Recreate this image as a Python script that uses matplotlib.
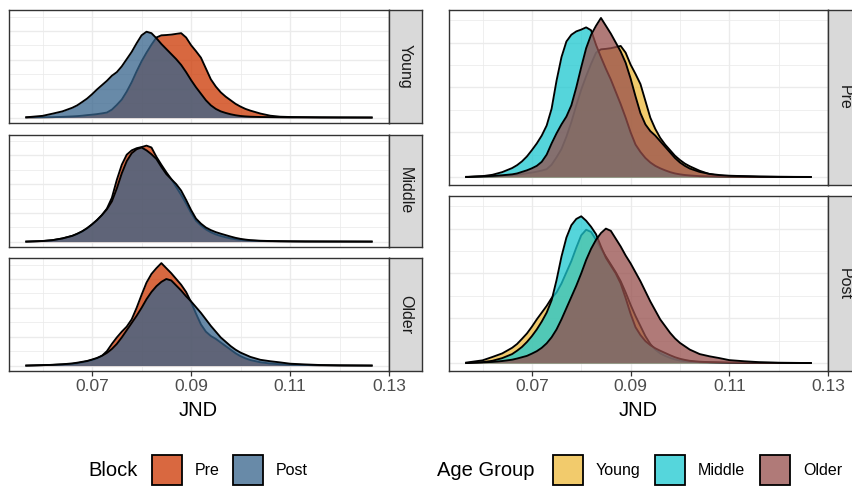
import matplotlib
matplotlib.use("Agg")
import matplotlib.pyplot as plt
from matplotlib.patches import Rectangle
from matplotlib.ticker import MultipleLocator, FixedLocator

plt.rcParams['font.family'] = ['Liberation Sans', 'DejaVu Sans']

# Evaluation grid of the JND density estimates
jnd = [0.0567, 0.060, 0.062, 0.064,
       0.066, 0.067, 0.068, 0.069, 0.070, 0.071, 0.072, 0.073, 0.074, 0.075,
       0.076, 0.077, 0.078, 0.079, 0.080, 0.081, 0.082, 0.083, 0.084, 0.085,
       0.086, 0.087, 0.088, 0.089, 0.090, 0.091, 0.092, 0.093, 0.094, 0.095,
       0.096, 0.097, 0.098, 0.099, 0.100, 0.101, 0.102,
       0.104, 0.106, 0.108, 0.110, 0.113, 0.116, 0.120, 0.1265]

young_pre = [0.1, 0.2, 0.3, 0.5,
             0.8, 1.0, 1.3, 1.7, 2.0, 2.4, 2.9, 3.5, 5.5, 8.8,
             12.5, 18.0, 24.5, 32.0, 39.0, 45.0, 50.5, 55.5, 57.0, 57.2,
             57.5, 58.0, 58.5, 55.5, 50.2, 46.0, 41.5, 34.0, 26.5, 21.5,
             17.5, 14.5, 12.0, 9.5, 7.6, 6.0, 4.8,
             2.8, 1.3, 0.6, 0.4, 0.3, 0.2, 0.1, 0.05]
young_post = [0.2, 1.2, 2.7, 4.3,
              6.8, 8.5, 10.8, 13.2, 16.2, 19.5, 22.5, 25.5, 29.0, 31.5,
              35.5, 40.5, 45.5, 51.5, 57.0, 59.5, 58.5, 55.0, 51.0, 47.5,
              44.0, 40.5, 36.5, 31.5, 26.0, 21.0, 16.5, 12.0, 8.5, 6.0,
              4.3, 3.2, 2.3, 1.6, 1.1, 0.8, 0.6,
              0.4, 0.3, 0.2, 0.1, 0.1, 0.05, 0.05, 0.0]
middle_pre = [0.0, 0.4, 1.0, 2.2,
              4.0, 5.3, 7.0, 9.2, 12.0, 15.0, 18.5, 23.0, 30.5, 43.0,
              53.5, 60.5, 63.5, 65.0, 65.8, 66.8, 65.5, 59.0, 53.5, 48.3,
              43.5, 38.0, 32.5, 26.5, 20.0, 14.5, 11.2, 8.5, 6.5, 5.0,
              3.9, 3.0, 2.2, 1.6, 1.2, 0.9, 0.7,
              0.4, 0.3, 0.2, 0.15, 0.1, 0.05, 0.05, 0.0]
middle_post = [0.0, 0.4, 1.0, 2.2,
               4.0, 5.5, 7.2, 9.4, 12.0, 15.0, 18.5, 22.5, 28.0, 37.0,
               47.5, 56.0, 61.5, 64.3, 65.5, 63.5, 60.8, 57.5, 52.0, 47.0,
               43.5, 40.0, 35.5, 29.0, 22.0, 16.0, 12.5, 9.8, 8.0, 6.6,
               5.5, 4.5, 3.5, 2.6, 1.9, 1.4, 1.0,
               0.6, 0.4, 0.3, 0.2, 0.1, 0.1, 0.05, 0.0]
older_pre = [0.0, 0.3, 0.5, 0.8,
             1.2, 1.6, 2.3, 3.0, 3.9, 5.0, 6.8, 10.0, 15.0, 19.5,
             23.5, 27.0, 32.0, 40.0, 49.0, 57.5, 63.5, 67.5, 71.0, 67.5,
             64.0, 60.0, 56.0, 51.0, 44.0, 36.0, 28.5, 23.5, 20.5, 18.5,
             16.0, 13.5, 11.0, 8.5, 6.5, 5.0, 3.8,
             2.3, 1.4, 0.9, 0.6, 0.4, 0.2, 0.1, 0.0]
older_post = [0.0, 0.3, 0.5, 0.9,
              1.5, 2.0, 2.6, 3.2, 4.2, 5.3, 6.8, 8.8, 11.5, 15.0,
              19.5, 24.5, 29.5, 34.5, 40.0, 46.0, 51.0, 55.0, 58.0, 60.0,
              59.0, 55.5, 52.0, 48.0, 44.5, 40.5, 36.5, 32.0, 27.5, 23.5,
              19.5, 16.5, 13.5, 11.0, 9.0, 7.5, 6.0,
              4.0, 3.0, 2.2, 1.3, 0.8, 0.4, 0.15, 0.0]

age_groups = ["Young", "Middle", "Older"]
blocks = ["Pre", "Post"]
density = {
    ("Young", "Pre"): young_pre, ("Young", "Post"): young_post,
    ("Middle", "Pre"): middle_pre, ("Middle", "Post"): middle_post,
    ("Older", "Pre"): older_pre, ("Older", "Post"): older_post,
}

block_colors = {"Pre": "#CC3600", "Post": "#36638B"}
age_colors = {"Young": "#EDB93B", "Middle": "#1CC8D0", "Older": "#964E4B"}
ALPHA = 0.75

x_ticks = [0.07, 0.09, 0.11, 0.13]
x_tick_labels = ["0.07", "0.09", "0.11", "0.13"]

W, H = 853, 486
fig = plt.figure(figsize=(W / 100, H / 100), dpi=100)


def box(x0, y0, x1, y1):
    return [x0 / W, 1 - y1 / H, (x1 - x0) / W, (y1 - y0) / H]


xmin, xmax = min(jnd), max(jnd)
xw = xmax - xmin
ymax = max(max(v) for v in density.values())
# 5% padding on both axes; the upper x limit lands on the last break
XLIM = (xmin - 0.05 * xw, max(xmax + 0.05 * xw, 0.13) + 1e-6)
YLIM = (-0.05 * ymax, 1.05 * ymax)


def style_panel(ax, bottom):
    ax.set_xlim(*XLIM)
    ax.set_ylim(*YLIM)
    ax.xaxis.set_major_locator(FixedLocator(x_ticks))
    ax.xaxis.set_minor_locator(MultipleLocator(0.01))
    ax.yaxis.set_major_locator(MultipleLocator(20))
    ax.yaxis.set_minor_locator(MultipleLocator(10))
    ax.grid(which="major", color="#EBEBEB", lw=1.0, zorder=0)
    ax.grid(which="minor", color="#EBEBEB", lw=0.55, zorder=0)
    ax.set_axisbelow(True)
    for s in ax.spines.values():
        s.set_color("#333333")
        s.set_linewidth(1.0)
    ax.tick_params(axis="y", which="both", left=False, labelleft=False)
    ax.tick_params(axis="x", which="minor", bottom=False)
    if bottom:
        ax.set_xticklabels(x_tick_labels)
        ax.tick_params(axis="x", which="major", length=3.5, width=0.9,
                       color="#333333", labelsize=12.5, labelcolor="#4D4D4D",
                       pad=2.5)
    else:
        ax.tick_params(axis="x", which="major", bottom=False, labelbottom=False)


def strip(x0, y0, x1, y1, label):
    sax = fig.add_axes(box(x0, y0, x1, y1))
    sax.set_facecolor("#D9D9D9")
    sax.set_xticks([])
    sax.set_yticks([])
    for s in sax.spines.values():
        s.set_color("#333333")
        s.set_linewidth(1.0)
    sax.text(0.5, 0.5, label, rotation=-90, ha="center", va="center",
             fontsize=11.5, color="#1A1A1A", transform=sax.transAxes)


def draw_density(ax, y, color):
    ax.fill_between(jnd, 0, y, color=color, alpha=ALPHA, lw=0, zorder=2)
    ax.plot(jnd, y, color="black", lw=1.35, zorder=2, solid_joinstyle="round")


# Left: one panel per age group, Pre vs Post
left_rows = [(10, 122.7), (134.5, 246.7), (258, 370.7)]
for (y0, y1), group in zip(left_rows, age_groups):
    ax = fig.add_axes(box(9, y0, 389, y1))
    for b in blocks:
        draw_density(ax, density[(group, b)], block_colors[b])
    style_panel(ax, bottom=(group == "Older"))
    strip(389, y0, 422, y1, group)

# Right: one panel per block, age groups overlaid
right_rows = [(10, 185), (196, 371)]
for (y0, y1), b in zip(right_rows, blocks):
    ax = fig.add_axes(box(449, y0, 828, y1))
    for group in age_groups:
        draw_density(ax, density[(group, b)], age_colors[group])
    style_panel(ax, bottom=(b == "Post"))
    strip(828, y0, 861, y1, b)

fig.text(198 / W, 1 - 410 / H, "JND", ha="center", va="center", fontsize=14.5)
fig.text(638 / W, 1 - 410 / H, "JND", ha="center", va="center", fontsize=14.5)


def legend_key(x0, color):
    fig.add_artist(Rectangle((x0 / W, 1 - 485 / H), 30 / W, 30 / H,
                             transform=fig.transFigure, facecolor=color,
                             edgecolor="black", lw=1.3))


def blend(color):
    c = matplotlib.colors.to_rgb(color)
    return tuple(ALPHA * v + (1 - ALPHA) for v in c)


ly = 1 - 470 / H
fig.text(88 / W, ly, "Block", ha="left", va="center", fontsize=14.5)
for b, kx in zip(blocks, [152, 233]):
    legend_key(kx, blend(block_colors[b]))
    fig.text((kx + 43) / W, ly, b, ha="left", va="center", fontsize=11.5)

fig.text(437 / W, ly, "Age Group", ha="left", va="center", fontsize=14.5)
for g, kx in zip(age_groups, [553, 655, 760]):
    legend_key(kx, blend(age_colors[g]))
    fig.text((kx + 43) / W, ly, g, ha="left", va="center", fontsize=11.5)

fig.savefig("out.png", dpi=100)
